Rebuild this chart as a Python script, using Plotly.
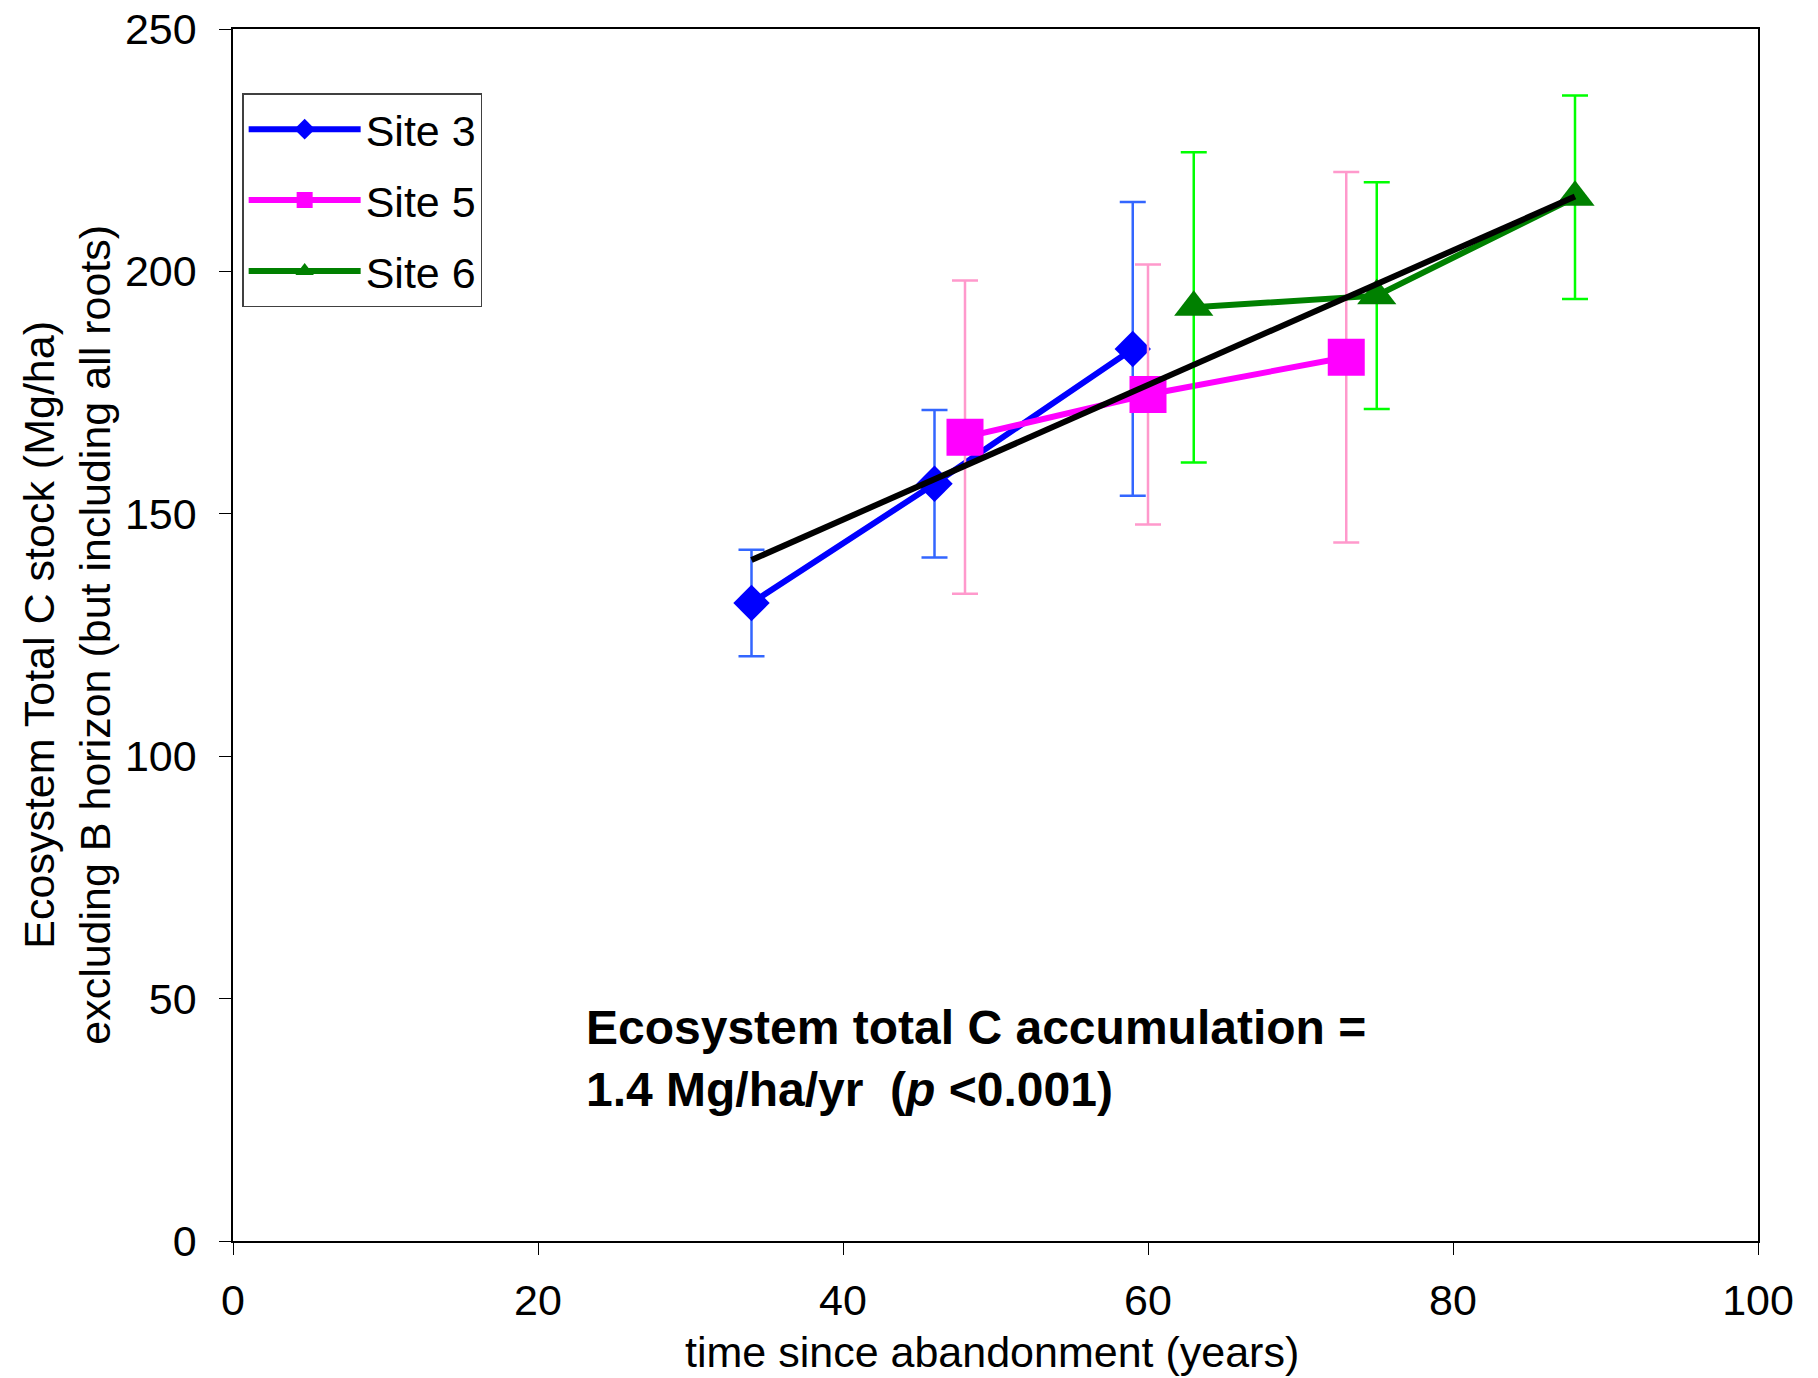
import numpy as np
import plotly.graph_objects as go

# ---- data ----
site3_x = [34, 46, 59]
site3_y = [131.6, 156.2, 184.0]
site3_err = [11.0, 15.2, 30.3]

site5_x = [48, 60, 73]
site5_y = [165.8, 174.6, 182.3]
site5_err = [32.3, 26.8, 38.2]

site6_x = [63, 75, 88]
site6_y = [192.6, 195.0, 215.3]
site6_err = [32.0, 23.4, 21.0]

x_ticks = [0, 20, 40, 60, 80, 100]
y_ticks = [0, 50, 100, 150, 200, 250]

FONT = "Liberation Sans, Arial, sans-serif"

fig = go.Figure()

def add_site(name, xs, ys, errs, line_color, err_color, symbol, size):
    fig.add_trace(go.Scatter(
        x=xs, y=ys, name=name, mode="lines+markers", legendgroup=name,
        line=dict(color=line_color, width=6),
        marker=dict(symbol=symbol, size=size, color=line_color),
        error_y=dict(type="data", array=errs, visible=True,
                     color=err_color, thickness=2.5, width=13),
    ))

add_site("Site 3", site3_x, site3_y, site3_err, "#0000FF", "#3366FF", "diamond", 28)
add_site("Site 5", site5_x, site5_y, site5_err, "#FF00FF", "#FF99CC", "square", 37)
add_site("Site 6", site6_x, site6_y, site6_err, "#008000", "#00FF00", "triangle-up", 34)

# linear regression over all points
all_x = np.array(site3_x + site5_x + site6_x, dtype=float)
all_y = np.array(site3_y + site5_y + site6_y, dtype=float)
slope, intercept = np.polyfit(all_x, all_y, 1)
fit_x = np.array([all_x.min(), all_x.max()])
fit_y = slope * fit_x + intercept
fig.add_trace(go.Scatter(x=fit_x, y=fit_y, mode="lines", showlegend=False,
                         line=dict(color="black", width=6)))

fig.add_annotation(
    x=23.0, y=37.6, xref="x", yref="y", xanchor="left", yanchor="middle",
    align="left", showarrow=False,
    text="<b>Ecosystem total C accumulation =<br>1.4 Mg/ha/yr  (<i>p</i> &lt;0.001)</b>",
    font=dict(family=FONT, size=48, color="black"),
)

# axis titles
fig.add_annotation(
    x=0.498, y=-0.0916, xref="paper", yref="paper", xanchor="center", yanchor="middle",
    showarrow=False, text="time since abandonment (years)",
    font=dict(family=FONT, size=43, color="black"),
)
fig.add_annotation(
    x=-0.109, y=0.5, xref="paper", yref="paper", xanchor="center", yanchor="middle",
    showarrow=False, textangle=-90,
    text="Ecosystem Total C stock (Mg/ha)<br>excluding B horizon (but including all roots)",
    font=dict(family=FONT, size=43, color="black"),
)

fig.update_layout(
    width=1818, height=1378,
    paper_bgcolor="white", plot_bgcolor="white",
    margin=dict(l=225, r=68, t=21, b=145, autoexpand=False),
    font=dict(family=FONT, size=43, color="black"),
    showlegend=True,
    legend=dict(
        x=0.006, y=0.947, xanchor="left", yanchor="top",
        bgcolor="white", bordercolor="#404040", borderwidth=1.5,
        font=dict(family=FONT, size=43, color="black"),
        itemwidth=112, traceorder="grouped", tracegroupgap=12,
    ),
)

fig.update_xaxes(
    range=[0, 100], tickvals=x_ticks, ticktext=[str(v) for v in x_ticks],
    showgrid=False, zeroline=False, automargin=False, ticklabeloverflow="allow",
    showline=True, linecolor="black", linewidth=1.5, mirror=True,
    ticks="outside", ticklen=12, tickcolor="black", tickwidth=1,
    ticklabelstandoff=9,
)
fig.update_yaxes(
    range=[0, 250], tickvals=y_ticks, ticktext=[str(v) for v in y_ticks],
    showgrid=False, zeroline=False, automargin=False, ticklabeloverflow="allow",
    showline=True, linecolor="black", linewidth=1.5, mirror=True,
    ticks="outside", ticklen=12, tickcolor="black", tickwidth=1,
    ticklabelstandoff=14,
)

fig.write_html("out.html")
